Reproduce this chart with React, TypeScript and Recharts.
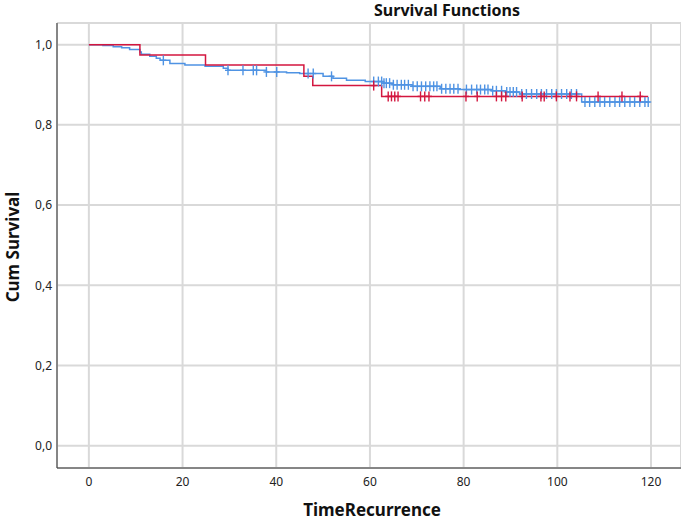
import { ComposedChart, Line, Scatter, XAxis, YAxis, CartesianGrid } from "recharts";

// step points (time, cumulative survival)
const blueTimes = [0, 3, 5.2, 7, 8.7, 10.9, 11.2, 13, 14.4, 15.2, 17.3, 20.5, 24.8, 28.7, 29.7, 37.9, 42.2, 45, 50, 52.1, 55, 59, 62.8, 65, 69, 75, 79, 86, 89, 92, 105.2, 119.7];
const blueSurv = [1.0, 0.998, 0.995, 0.992, 0.988, 0.982, 0.976, 0.971, 0.966, 0.961, 0.953, 0.949, 0.946, 0.941, 0.936, 0.932, 0.93, 0.928, 0.921, 0.916, 0.911, 0.908, 0.904, 0.9, 0.896, 0.89, 0.888, 0.885, 0.882, 0.877, 0.857, 0.857];

const redTimes = [0, 10.9, 24.9, 45.9, 47.8, 62.5, 119.4];
const redSurv = [1.0, 0.974, 0.949, 0.921, 0.898, 0.871, 0.871];

// censored cases
const blueCensored = [15.9, 29.7, 32.9, 35.1, 35.8, 37.9, 40.1, 46.8, 47.9, 51.8, 60.8, 61.8, 62.5, 63.0, 63.5, 64.2, 65.0, 65.8, 66.7, 67.4, 68.2, 69.2, 70.1, 71.0, 71.9, 72.8, 73.6, 74.3, 75.3, 76.2, 77.1, 77.9, 78.8, 80.6, 81.7, 82.8, 83.6, 84.5, 85.2, 86.2, 87.0, 88.1, 89.2, 89.9, 90.6, 91.3, 92.4, 93.4, 94.5, 95.6, 96.6, 97.7, 98.8, 99.8, 100.9, 102.0, 103.0, 104.1, 105.9, 106.9, 108.0, 109.1, 110.1, 111.2, 112.3, 113.3, 114.4, 115.5, 116.5, 117.6, 118.7, 119.4];
const redCensored = [60.8, 63.9, 64.6, 65.3, 66.0, 70.8, 71.7, 72.6, 80.5, 82.9, 87.0, 88.1, 89.0, 92.5, 96.5, 97.2, 99.8, 102.7, 104.1, 108.7, 113.8, 117.7];

const xTicks = [0, 20, 40, 60, 80, 100, 120];
const yTicks = [0, 0.2, 0.4, 0.6, 0.8, 1.0];

const BLUE = "#4f93e3";
const RED = "#d3163f";
const FONT = "'Noto Sans', sans-serif";

const toRows = (ts: number[], ss: number[]) => ts.map((t, i) => ({ t, s: ss[i] }));

function survAt(ts: number[], ss: number[], t: number) {
  let v = ss[0];
  for (let i = 0; i < ts.length; i++) if (ts[i] <= t) v = ss[i];
  return v;
}

const blueData = toRows(blueTimes, blueSurv);
const redData = toRows(redTimes, redSurv);
const blueMarks = blueCensored.map((t) => ({ t, s: survAt(blueTimes, blueSurv, t) }));
const redMarks = redCensored.map((t) => ({ t, s: survAt(redTimes, redSurv, t) }));

const plus = (color: string) => (props: any) => {
  const { cx, cy } = props;
  if (cx == null || cy == null) return <g />;
  return (
    <g stroke={color} strokeWidth={1.4}>
      <line x1={cx} y1={cy - 5} x2={cx} y2={cy + 5} />
      <line x1={cx - 3} y1={cy} x2={cx + 3} y2={cy} />
    </g>
  );
};

export default function App() {
  return (
    <div style={{ position: "absolute", left: 0, top: 0, width: 681, height: 520, background: "#fff", fontFamily: FONT }}>
      <div style={{ position: "absolute", left: 447, top: 1, lineHeight: "18px", transform: "translateX(-50%)", fontSize: 16, fontWeight: 700, color: "#111", whiteSpace: "nowrap" }}>
        Survival Functions
      </div>

      <ComposedChart width={681} height={520} margin={{ top: 23, right: 0, bottom: 0, left: 0 }}>
        <CartesianGrid stroke="#d9d9d9" strokeWidth={2} />
        <XAxis
          type="number"
          dataKey="t"
          domain={[-6.8, 126.4]}
          ticks={xTicks}
          allowDataOverflow
          height={52}
          tickLine={false}
          tickSize={0}
          tickMargin={9}
          axisLine={{ stroke: "#333", strokeWidth: 1 }}
          tick={{ fontSize: 12, fill: "#222", fontFamily: FONT }}
        />
        <YAxis
          type="number"
          dataKey="s"
          domain={[-0.0556, 1.054]}
          ticks={yTicks}
          allowDataOverflow
          width={57}
          tickLine={false}
          tickSize={0}
          tickMargin={5}
          tickFormatter={(v: number) => v.toFixed(1).replace(".", ",")}
          axisLine={{ stroke: "#333", strokeWidth: 1 }}
          tick={{ fontSize: 12, fill: "#222", fontFamily: FONT }}
        />
        <Line data={blueData} dataKey="s" type="stepAfter" stroke={BLUE} strokeWidth={1.5} dot={false} isAnimationActive={false} />
        <Scatter data={blueMarks} dataKey="s" shape={plus(BLUE)} isAnimationActive={false} />
        <Line data={redData} dataKey="s" type="stepAfter" stroke={RED} strokeWidth={1.5} dot={false} isAnimationActive={false} />
        <Scatter data={redMarks} dataKey="s" shape={plus(RED)} isAnimationActive={false} />
      </ComposedChart>

      <div style={{ position: "absolute", left: 372, top: 498, transform: "translateX(-50%)", fontSize: 17, fontWeight: 700, color: "#111", whiteSpace: "nowrap" }}>
        TimeRecurrence
      </div>
      <div style={{ position: "absolute", left: 12, top: 247, transform: "translate(-50%, -50%) rotate(-90deg)", fontSize: 17, fontWeight: 700, color: "#111", whiteSpace: "nowrap" }}>
        Cum Survival
      </div>
    </div>
  );
}
